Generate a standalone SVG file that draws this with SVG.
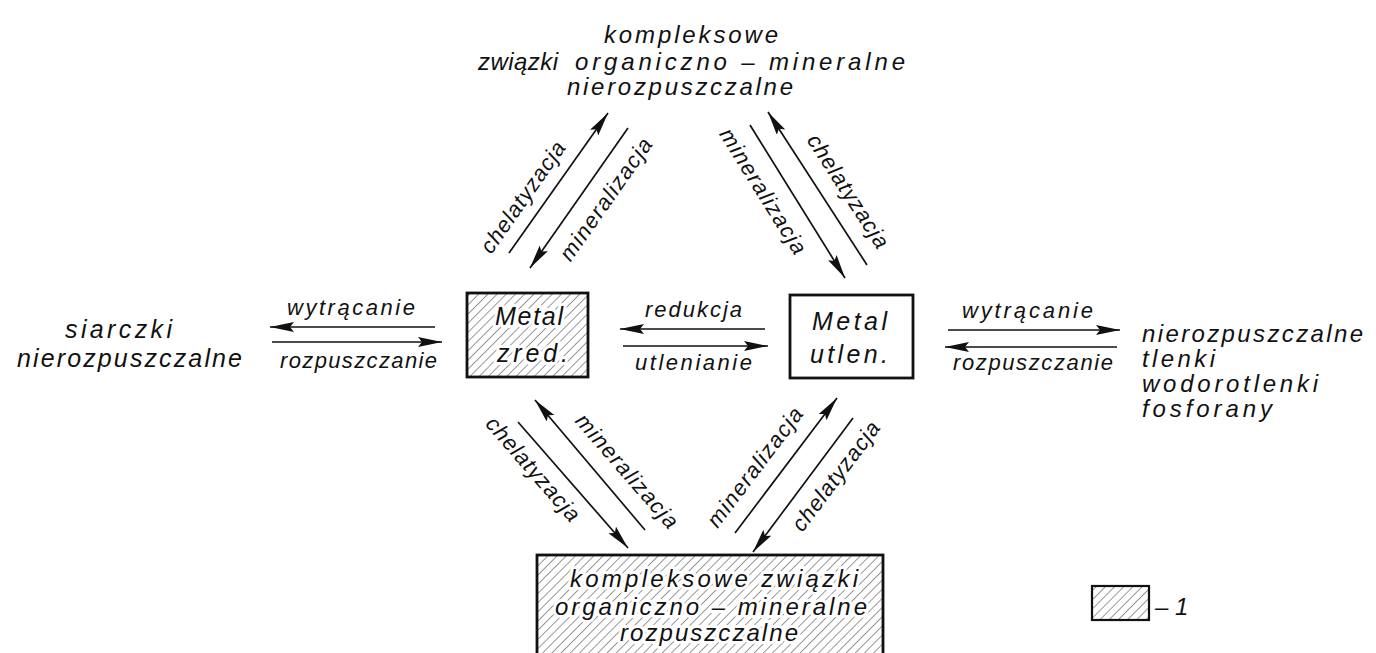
<svg xmlns="http://www.w3.org/2000/svg" width="1376" height="653" viewBox="0 0 1376 653">
<style>
  text { font-family: "Liberation Sans", Arial, sans-serif; font-style: italic; font-weight: normal; fill: #111; }
  .n { font-size: 25px; }
  .s { font-size: 24px; }
  .l { font-size: 22px; }
  .halo { paint-order: stroke; stroke: #fff; stroke-width: 6px; stroke-linejoin: round; }
  .box { stroke: #111; stroke-width: 2.8; }
  .arr { stroke: #111; stroke-width: 1.7; fill: none; marker-end: url(#ah); }
</style>
<defs>
  <pattern id="hatch" patternUnits="userSpaceOnUse" width="6.5" height="6.5" patternTransform="rotate(45)">
    <line x1="0" y1="0" x2="0" y2="6.5" stroke="#444" stroke-width="1.1"/>
  </pattern>
  <marker id="ah" markerUnits="userSpaceOnUse" markerWidth="26" markerHeight="12" refX="24" refY="5" orient="auto">
    <path d="M0,0 L24,5 L0,10 L4,5 Z" fill="#111"/>
  </marker>
</defs>
<rect width="1376" height="653" fill="#fff"/>

<g id="node-top">
  <text class="s" x="604" y="43" textLength="174" lengthAdjust="spacing">kompleksowe</text>
  <text class="s" x="478" y="70" textLength="80" lengthAdjust="spacing">związki</text>
  <text class="s" x="575" y="70" textLength="330" lengthAdjust="spacing">organiczno – mineralne</text>
  <text class="s" x="567" y="95" textLength="226" lengthAdjust="spacing">nierozpuszczalne</text>
</g>

<g id="node-siarczki">
  <text class="n" x="65" y="338" textLength="107" lengthAdjust="spacing">siarczki</text>
  <text class="n" x="17" y="367" textLength="225" lengthAdjust="spacing">nierozpuszczalne</text>
</g>

<g id="node-metal-zred">
  <rect class="box" x="467" y="293" width="121" height="84" fill="url(#hatch)"/>
  <text class="n halo" x="495" y="325" textLength="68" lengthAdjust="spacing">Metal</text>
  <text class="n halo" x="497" y="362" textLength="71" lengthAdjust="spacing">zred.</text>
</g>

<g id="node-metal-utlen">
  <rect class="box" x="790" y="295" width="123" height="83" fill="#fff"/>
  <text class="n" x="812" y="330" textLength="75" lengthAdjust="spacing">Metal</text>
  <text class="n" x="810" y="363" textLength="78" lengthAdjust="spacing">utlen.</text>
</g>

<g id="node-right">
  <text class="s" x="1142" y="342" textLength="221" lengthAdjust="spacing">nierozpuszczalne</text>
  <text class="s" x="1142" y="367" textLength="73" lengthAdjust="spacing">tlenki</text>
  <text class="s" x="1142" y="392" textLength="176" lengthAdjust="spacing">wodorotlenki</text>
  <text class="s" x="1142" y="417" textLength="130" lengthAdjust="spacing">fosforany</text>
</g>

<g id="node-bottom">
  <rect class="box" x="537" y="555" width="346" height="130" fill="url(#hatch)"/>
  <text class="s halo" x="570" y="587" textLength="288" lengthAdjust="spacing">kompleksowe związki</text>
  <text class="s halo" x="555" y="615" textLength="312" lengthAdjust="spacing">organiczno – mineralne</text>
  <text class="s halo" x="620" y="641" textLength="178" lengthAdjust="spacing">rozpuszczalne</text>
</g>

<g id="legend">
  <rect x="1092" y="586" width="57" height="34" fill="url(#hatch)" stroke="#111" stroke-width="2.2"/>
  <text class="s" x="1155" y="615">– 1</text>
</g>

<g id="connectors">
  <line class="arr" x1="435" y1="327" x2="270" y2="327"/>
  <line class="arr" x1="272" y1="342" x2="442" y2="342"/>
  <line class="arr" x1="765" y1="329" x2="620" y2="329"/>
  <line class="arr" x1="623" y1="346" x2="768" y2="346"/>
  <line class="arr" x1="948" y1="330" x2="1120" y2="330"/>
  <line class="arr" x1="1117" y1="347" x2="945" y2="347"/>
  <line class="arr" x1="509" y1="253" x2="608" y2="113"/>
  <line class="arr" x1="628" y1="128" x2="530" y2="268"/>
  <line class="arr" x1="750" y1="125" x2="845" y2="278"/>
  <line class="arr" x1="867" y1="265" x2="768" y2="112"/>
  <line class="arr" x1="518" y1="422" x2="628" y2="548"/>
  <line class="arr" x1="645" y1="530" x2="535" y2="400"/>
  <line class="arr" x1="735" y1="533" x2="837" y2="398"/>
  <line class="arr" x1="853" y1="418" x2="753" y2="552"/>
</g>

<g id="labels">
  <text class="l" x="287" y="315" textLength="128" lengthAdjust="spacing">wytrącanie</text>
  <text class="l" x="280" y="368" textLength="157" lengthAdjust="spacing">rozpuszczanie</text>
  <text class="l" x="645" y="317" textLength="97" lengthAdjust="spacing">redukcja</text>
  <text class="l" x="635" y="370" textLength="117" lengthAdjust="spacing">utlenianie</text>
  <text class="l" x="962" y="318" textLength="131" lengthAdjust="spacing">wytrącanie</text>
  <text class="l" x="953" y="370" textLength="160" lengthAdjust="spacing">rozpuszczanie</text>

  <text class="l" transform="translate(524,198) rotate(-55)" x="0" y="6" text-anchor="middle" textLength="131" lengthAdjust="spacing">chelatyzacja</text>
  <text class="l" transform="translate(607,200) rotate(-55)" x="0" y="6" text-anchor="middle" textLength="144" lengthAdjust="spacing">mineralizacja</text>
  <text class="l" transform="translate(762,192) rotate(58)" x="0" y="6" text-anchor="middle" textLength="144" lengthAdjust="spacing">mineralizacja</text>
  <text class="l" transform="translate(847,192) rotate(57)" x="0" y="6" text-anchor="middle" textLength="131" lengthAdjust="spacing">chelatyzacja</text>
  <text class="l" transform="translate(532,470) rotate(49)" x="0" y="6" text-anchor="middle" textLength="131" lengthAdjust="spacing">chelatyzacja</text>
  <text class="l" transform="translate(626,472) rotate(49)" x="0" y="6" text-anchor="middle" textLength="144" lengthAdjust="spacing">mineralizacja</text>
  <text class="l" transform="translate(756,468) rotate(-53)" x="0" y="6" text-anchor="middle" textLength="144" lengthAdjust="spacing">mineralizacja</text>
  <text class="l" transform="translate(837,477) rotate(-53)" x="0" y="6" text-anchor="middle" textLength="131" lengthAdjust="spacing">chelatyzacja</text>
</g>
</svg>
